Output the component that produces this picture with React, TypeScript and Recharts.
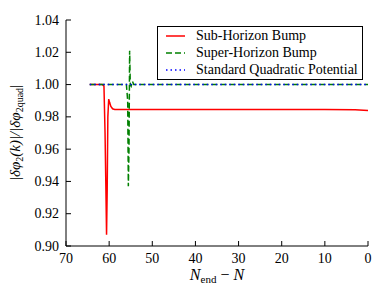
import React from 'react';
import { LineChart, Line, XAxis, YAxis, Legend } from 'recharts';

// axis ticks
const xTicks = [70, 60, 50, 40, 30, 20, 10, 0];
const yTicks = [0.9, 0.92, 0.94, 0.96, 0.98, 1.0, 1.02, 1.04];

// Sub-Horizon Bump (red)
const subN = [64.5, 61.6, 61.2, 60.95, 60.75, 60.6, 60.45, 60.3, 60.1, 59.9, 59.6, 59.2, 58.7, 50, 30, 10, 3, 0];
const subV = [1.0, 1.0, 0.999, 0.97, 0.935, 0.907, 0.935, 0.98, 0.991, 0.989, 0.9865, 0.985, 0.9846, 0.9846, 0.9846, 0.9846, 0.9844, 0.984];

// Super-Horizon Bump (green)
const superN = [64.5, 56.0, 55.7, 55.55, 55.4, 55.25, 55.1, 54.9, 54.6, 54.3, 0];
const superV = [1.0, 1.0, 0.99, 0.937, 0.96, 1.021, 1.0, 0.999, 1.002, 1.0, 1.0];

// Standard Quadratic Potential (blue)
const quadN = [64.5, 0];
const quadV = [1.0, 1.0];

const toPoints = (n: number[], v: number[]) => n.map((x, i) => ({ n: x, v: v[i] }));

const series = [
  { name: 'Sub-Horizon Bump', color: '#ff0000', dash: undefined, data: toPoints(subN, subV) },
  { name: 'Super-Horizon Bump', color: '#008000', dash: '6 3', data: toPoints(superN, superV) },
  { name: 'Standard Quadratic Potential', color: '#0000ff', dash: '1.5 3', data: toPoints(quadN, quadV) },
];

const FONT = "'Liberation Serif'";
const TICK = 5;

const BottomTick = ({ x, y, payload }: any) => (
  <g>
    <line x1={x} x2={x} y1={y} y2={y - TICK} stroke="#000" />
    <text x={x} y={y + 17} textAnchor="middle" style={{ fontFamily: FONT }} fontSize={14} fill="#000">
      {payload.value}
    </text>
  </g>
);

const TopTick = ({ x, y }: any) => <line x1={x} x2={x} y1={y} y2={y + TICK} stroke="#000" />;

const LeftTick = ({ x, y, payload }: any) => (
  <g>
    <line x1={x} x2={x + TICK} y1={y} y2={y} stroke="#000" />
    <text x={x - 7} y={y + 4.5} textAnchor="end" style={{ fontFamily: FONT }} fontSize={14} fill="#000">
      {payload.value.toFixed(2)}
    </text>
  </g>
);

const RightTick = ({ x, y }: any) => <line x1={x} x2={x - TICK} y1={y} y2={y} stroke="#000" />;

const LegendBox = () => (
  <div
    style={{
      border: '1px solid #000',
      background: '#fff',
      width: 204,
      height: 52,
      fontFamily: FONT,
      fontSize: 14,
      boxSizing: 'content-box',
    }}
  >
    {series.map((s) => (
      <div key={s.name} style={{ display: 'flex', alignItems: 'center', height: 17.3 }}>
        <svg width={30} height={10} style={{ marginLeft: 7, marginRight: 1 }}>
          <line x1={1} x2={20} y1={5} y2={5} stroke={s.color} strokeWidth={1.5} strokeDasharray={s.dash} />
        </svg>
        <span style={{ whiteSpace: 'nowrap' }}>{s.name}</span>
      </div>
    ))}
  </div>
);

const XLabel = ({ viewBox }: any) => (
  <text x={viewBox.x + viewBox.width / 2} y={280} textAnchor="middle" style={{ fontFamily: FONT }} fontSize={16} fontStyle="italic" fill="#000">
    <tspan>N</tspan>
    <tspan dy={3} fontSize={11} fontStyle="normal">end</tspan>
    <tspan dy={-3} fontStyle="normal"> − </tspan>
    <tspan>N</tspan>
  </text>
);

const YLabel = ({ viewBox }: any) => {
  const cx = 20;
  const cy = viewBox.y + viewBox.height / 2;
  return (
    <text
      x={cx}
      y={cy}
      transform={`rotate(-90 ${cx} ${cy})`}
      textAnchor="middle"
      style={{ fontFamily: FONT }}
      fontSize={15}
      fontStyle="italic"
      fill="#000"
    >
      <tspan>|δφ</tspan>
      <tspan dy={3} fontSize={10} fontStyle="normal">2</tspan>
      <tspan dy={-3}>(k)|/|δφ</tspan>
      <tspan dy={3} fontSize={10} fontStyle="normal">2quad</tspan>
      <tspan dy={-3} fontStyle="normal">|</tspan>
    </text>
  );
};

export default function App() {
  return (
    <div style={{ position: 'absolute', left: 0, top: 0, background: '#fff' }}>
      <LineChart width={388} height={291} margin={{ top: 20, right: 20, bottom: 0, left: 0 }}>
        <XAxis
          xAxisId={0}
          dataKey="n"
          type="number"
          domain={[0, 70]}
          ticks={xTicks}
          reversed
          height={45}
          tickSize={0}
          tickMargin={0}
          tickLine={false}
          axisLine={{ stroke: '#000' }}
          tick={<BottomTick />}
          label={<XLabel />}
        />
        <XAxis
          xAxisId="top"
          orientation="top"
          dataKey="n"
          type="number"
          domain={[0, 70]}
          ticks={xTicks}
          reversed
          height={0}
          tickSize={0}
          tickMargin={0}
          tickLine={false}
          axisLine={{ stroke: '#000' }}
          tick={<TopTick />}
        />
        <YAxis
          yAxisId={0}
          type="number"
          domain={[0.9, 1.04]}
          ticks={yTicks}
          width={66}
          tickSize={0}
          tickMargin={0}
          tickLine={false}
          axisLine={{ stroke: '#000' }}
          tick={<LeftTick />}
          label={<YLabel />}
        />
        <YAxis
          yAxisId="right"
          orientation="right"
          type="number"
          domain={[0.9, 1.04]}
          ticks={yTicks}
          width={0}
          tickSize={0}
          tickMargin={0}
          tickLine={false}
          axisLine={{ stroke: '#000' }}
          tick={<RightTick />}
        />
        <Legend
          layout="horizontal"
          verticalAlign="middle"
          align="center"
          content={<LegendBox />}
          wrapperStyle={{ position: 'absolute', top: 26, left: 157, width: 206, height: 54 }}
        />
        {series.map((s) => (
          <Line
            key={s.name}
            data={s.data}
            dataKey="v"
            name={s.name}
            type="linear"
            stroke={s.color}
            strokeWidth={1.5}
            strokeDasharray={s.dash}
            dot={false}
            activeDot={false}
            isAnimationActive={false}
          />
        ))}
      </LineChart>
    </div>
  );
}
